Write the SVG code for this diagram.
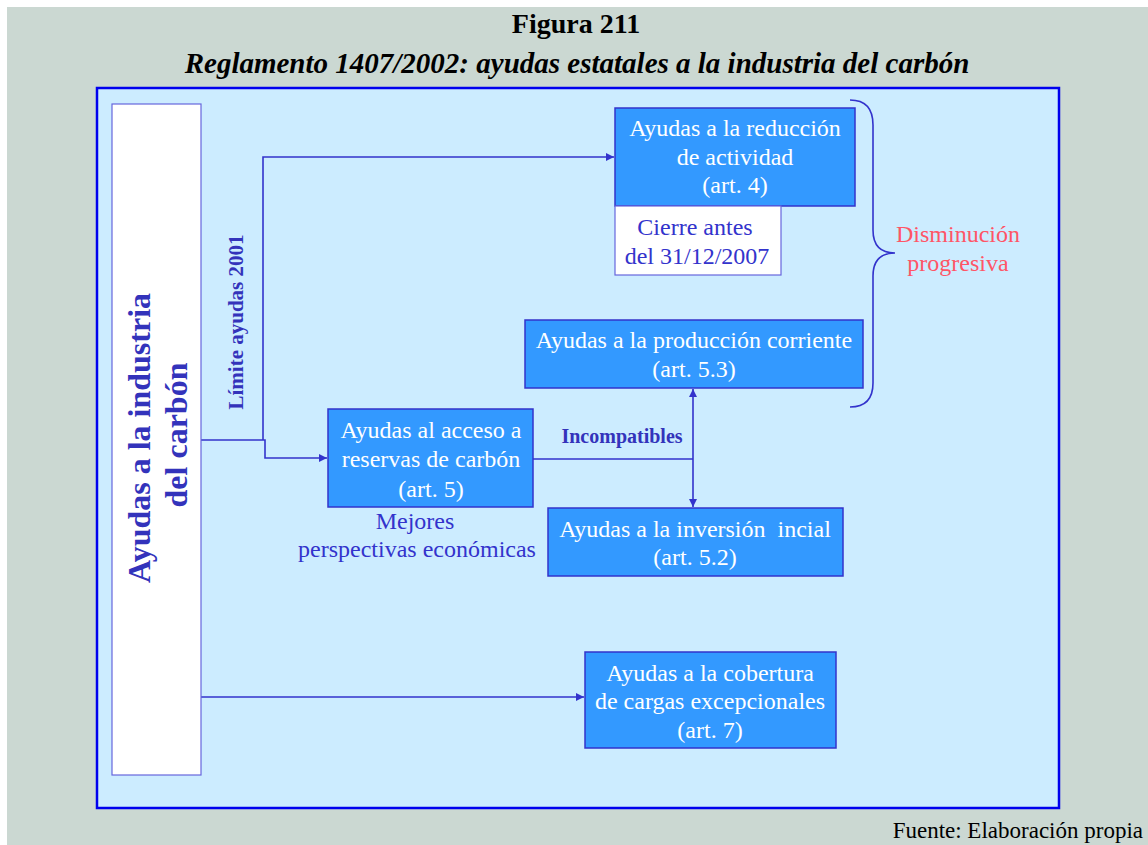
<svg xmlns="http://www.w3.org/2000/svg" width="1148" height="845" viewBox="0 0 1148 845">
<defs>
<marker id="ah" viewBox="0 0 10 10" refX="10" refY="5" markerWidth="8" markerHeight="8" markerUnits="userSpaceOnUse" orient="auto">
<path d="M0,0 L10,5 L0,10 z" fill="#3333CC"/>
</marker>
<style>
.box{fill:#3399FF;stroke:#3333CC;stroke-width:1.5}
.wbox{fill:#FFFFFF;stroke:#6666DD;stroke-width:1.2}
.bt{font-family:"Liberation Serif","Times New Roman",serif;font-size:24px;fill:#FFFFFF;text-anchor:middle}
.blt{font-family:"Liberation Serif","Times New Roman",serif;font-size:24px;fill:#3333CC;text-anchor:middle}
.rt{font-family:"Liberation Serif","Times New Roman",serif;font-size:24px;fill:#FF5566;text-anchor:middle}
.bold{font-family:"Liberation Serif","Times New Roman",serif;font-weight:bold;fill:#3333BB}
.con{fill:none;stroke:#3333CC;stroke-width:1.6}
</style>
</defs>
<rect x="0" y="0" width="1148" height="845" fill="#FFFFFF"/>
<rect x="7" y="7" width="1141" height="838" fill="#CBD8D2"/>
<text x="576" y="33" font-family="'Liberation Serif','Times New Roman',serif" font-weight="bold" font-size="28" text-anchor="middle" fill="#000000">Figura 211</text>
<text x="577" y="73" font-family="'Liberation Serif','Times New Roman',serif" font-weight="bold" font-style="italic" font-size="29" text-anchor="middle" fill="#000000">Reglamento 1407/2002: ayudas estatales a la industria del carbón</text>
<rect x="97" y="88" width="962" height="720" fill="#CCECFF" stroke="#0000EE" stroke-width="2.5"/>

<g id="connectors">
<path class="con" d="M201,440 H265 V458 H327" marker-end="url(#ah)"/>
<path class="con" d="M263,440 V157 H614" marker-end="url(#ah)"/>
<path class="con" d="M533,459 H693"/>
<path class="con" d="M693,459 V389" marker-end="url(#ah)"/>
<path class="con" d="M693,459 V507" marker-end="url(#ah)"/>
<path class="con" d="M201,697 H584" marker-end="url(#ah)"/>
<path class="con" d="M850,100 Q873,100 873,125 L873,230 Q873,253 895,253 Q873,253 873,276 L873,383 Q873,407 850,407"/>
</g>

<g id="n-main">
<rect class="wbox" x="112" y="104" width="89" height="671"/>
<text class="bold" font-size="32" text-anchor="middle" transform="translate(150,438) rotate(-90)">Ayudas a la industria</text>
<text class="bold" font-size="32" text-anchor="middle" transform="translate(187,435) rotate(-90)">del carbón</text>
</g>

<g id="lbl-limite">
<text class="bold" font-size="21" text-anchor="middle" transform="translate(243,322) rotate(-90)">Límite ayudas 2001</text>
</g>

<g id="n-reduccion">
<rect class="box" x="615" y="108" width="240" height="98"/>
<text class="bt" x="735" y="136">Ayudas a la reducción</text>
<text class="bt" x="735" y="165">de actividad</text>
<text class="bt" x="735" y="193">(art. 4)</text>
</g>

<g id="n-cierre">
<rect class="wbox" x="615" y="206" width="166" height="69"/>
<text class="blt" x="695" y="235">Cierre antes</text>
<text class="blt" x="697" y="264">del 31/12/2007</text>
</g>

<g id="n-produccion">
<rect class="box" x="525" y="320" width="338" height="68"/>
<text class="bt" x="694" y="348">Ayudas a la producción corriente</text>
<text class="bt" x="694" y="377">(art. 5.3)</text>
</g>

<g id="lbl-disminucion">
<text class="rt" x="958" y="242">Disminución</text>
<text class="rt" x="958" y="271">progresiva</text>
</g>

<g id="n-acceso">
<rect class="box" x="328" y="409" width="205" height="98"/>
<text class="bt" x="431" y="438">Ayudas al acceso a</text>
<text class="bt" x="431" y="467">reservas de carbón</text>
<text class="bt" x="431" y="497">(art. 5)</text>
</g>

<g id="lbl-incompatibles">
<text class="bold" font-size="20" x="622" y="443" text-anchor="middle">Incompatibles</text>
</g>

<g id="lbl-mejores">
<text class="blt" x="415" y="529">Mejores</text>
<text class="blt" x="417" y="557">perspectivas económicas</text>
</g>

<g id="n-inversion">
<rect class="box" x="548" y="508" width="295" height="68"/>
<text class="bt" x="695" y="537" xml:space="preserve">Ayudas a la inversión  incial</text>
<text class="bt" x="695" y="565">(art. 5.2)</text>
</g>

<g id="n-cobertura">
<rect class="box" x="585" y="652" width="251" height="96"/>
<text class="bt" x="710" y="681">Ayudas a la cobertura</text>
<text class="bt" x="710" y="709">de cargas excepcionales</text>
<text class="bt" x="710" y="738">(art. 7)</text>
</g>

<text x="1143" y="838" font-family="'Liberation Serif','Times New Roman',serif" font-size="23" text-anchor="end" fill="#000000">Fuente: Elaboración propia</text>
</svg>
